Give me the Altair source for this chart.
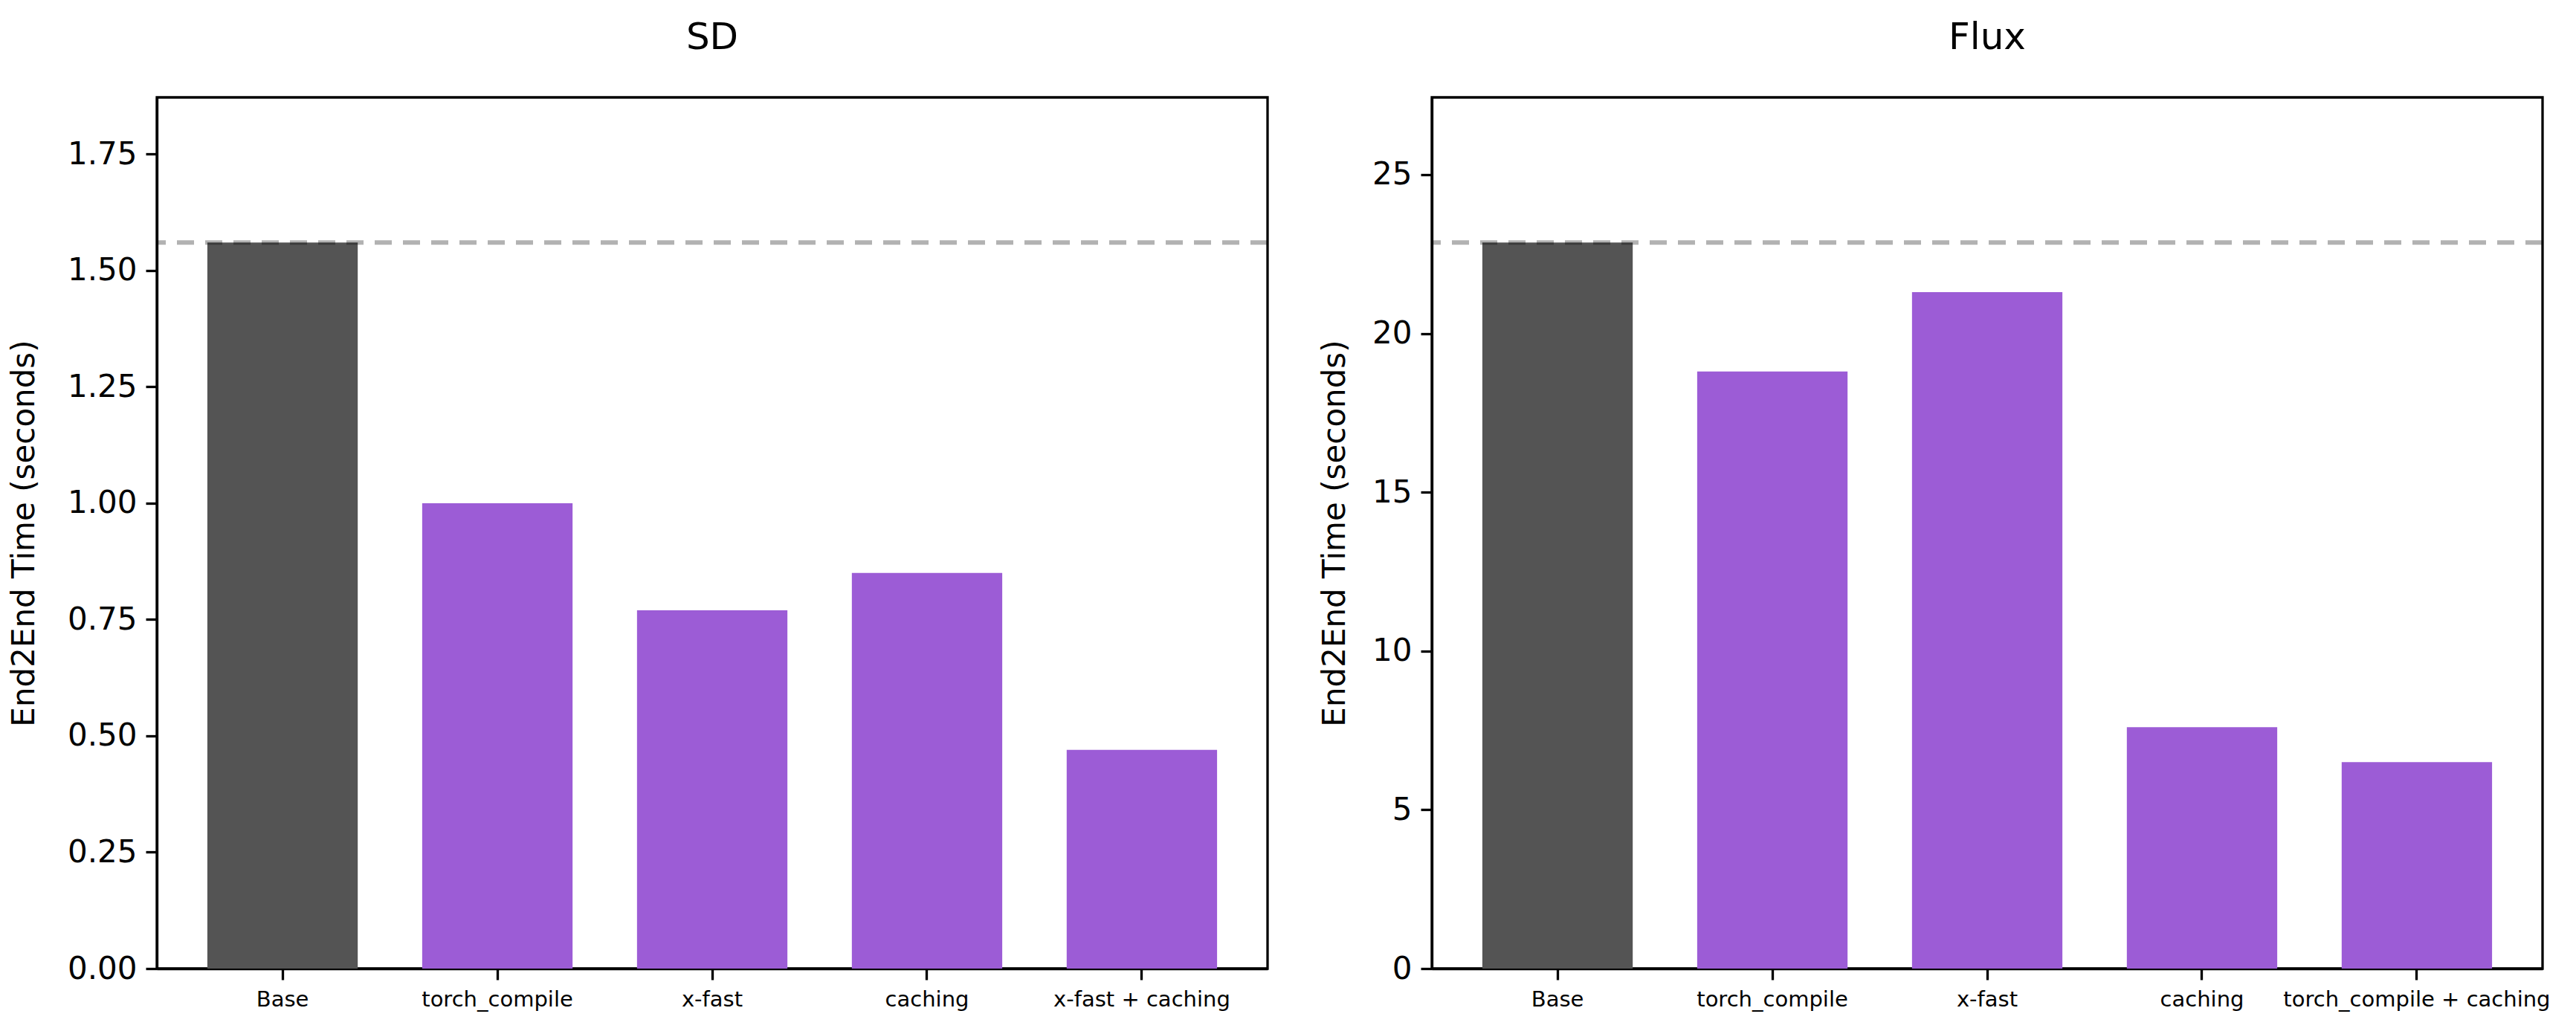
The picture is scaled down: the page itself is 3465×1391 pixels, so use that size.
import altair as alt
import pandas as pd

# ---- data ----
sd_methods = ["Base", "torch_compile", "x-fast", "caching", "x-fast + caching"]
sd_times = [1.56, 1.00, 0.77, 0.85, 0.47]
sd_ticks = [0, 0.25, 0.5, 0.75, 1.0, 1.25, 1.5, 1.75]

flux_methods = ["Base", "torch_compile", "x-fast", "caching", "torch_compile + caching"]
flux_times = [22.86, 18.8, 21.3, 7.6, 6.5]
flux_ticks = [0, 5, 10, 15, 20, 25]

BASE_COLOR = "#545454"
OPT_COLOR = "#9C5CD6"
FONT = "DejaVu Sans"


def panel(title, methods, times, ticks, fmt, title_pad):
    df = pd.DataFrame({
        "method": methods,
        "time": times,
        "kind": ["Base" if m == "Base" else "Optimized" for m in methods],
    })
    ymax = max(times) * 1.2
    yscale = alt.Scale(domain=[0, ymax], nice=False, zero=True)
    bars = alt.Chart(df).mark_bar().encode(
        x=alt.X(
            "method:N", sort=methods, title=None,
            scale=alt.Scale(paddingInner=0.3, paddingOuter=0.235),
            axis=alt.Axis(labelAngle=0, labelFontSize=29, labelPadding=12,
                          labelLimit=0, grid=False,
                          tickSize=15, tickWidth=3.3, tickColor="black",
                          domainColor="black", domainWidth=3.3,
                          labelFont=FONT, labelColor="black"),
        ),
        y=alt.Y(
            "time:Q", scale=yscale,
            axis=alt.Axis(values=ticks, format=fmt, title="End2End Time (seconds)",
                          grid=False,
                          labelFontSize=42, labelPadding=12, tickSize=15,
                          tickWidth=3.3, tickColor="black", domainColor="black",
                          domainWidth=3.3, titleFontSize=42, titleFontWeight="normal",
                          titlePadding=title_pad, labelFont=FONT, titleFont=FONT,
                          labelColor="black", titleColor="black"),
        ),
        color=alt.Color("kind:N",
                        scale=alt.Scale(domain=["Base", "Optimized"],
                                        range=[BASE_COLOR, OPT_COLOR]),
                        legend=None),
    )
    rule = alt.Chart(pd.DataFrame({"time": [times[0]]})).mark_rule(
        color="black", opacity=0.3, strokeWidth=6, strokeDash=[23, 15]
    ).encode(y=alt.Y("time:Q", scale=yscale))
    return alt.layer(bars, rule).properties(
        width=1494, height=1172,
        title=alt.TitleParams(text=title, fontSize=50, fontWeight="normal",
                              font=FONT, color="black", offset=55,
                              anchor="middle", frame="group"),
    )


left = panel("SD", sd_methods, sd_times, sd_ticks, ".2f", 36)
right = panel("Flux", flux_methods, flux_times, flux_ticks, "d", 28)

chart = alt.hconcat(left, right, spacing=62).properties(
    background="white",
    padding={"top": 16, "left": 1, "right": 5, "bottom": 5},
).configure_view(
    stroke="black", strokeWidth=3.3
).configure_axis(grid=False)

chart.save("out.html", embed_options={"renderer": "svg", "actions": False})
